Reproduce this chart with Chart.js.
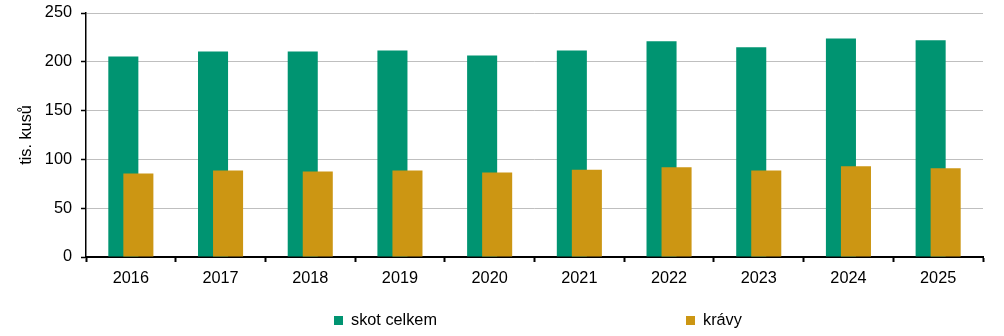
<!DOCTYPE html>
<html>
<head>
<meta charset="utf-8">
<script src="https://cdn.jsdelivr.net/npm/chart.js@4.4.1/dist/chart.umd.min.js"></script>
<style>
  body { margin: 0; background: #fff; }
  #wrap { position: relative; width: 1004px; height: 336px; }
  #legend { position: absolute; left: 0; top: 308px; width: 1004px; height: 24px;
            font-family: "Liberation Sans", Arial, sans-serif; font-size: 16.3px; color: #000; }
  .item { position: absolute; top: 0; white-space: nowrap; line-height: 22px; }
  .box { display: inline-block; width: 9px; height: 9px; margin-right: 8px; vertical-align: 0px; }
</style>
</head>
<body>
<div id="wrap">
  <canvas id="chart" width="1004" height="336"></canvas>
  <div id="legend"></div>
</div>
<script>
// data (tis. kusů)
var years = ['2016', '2017', '2018', '2019', '2020', '2021', '2022', '2023', '2024', '2025'];
var skotCelkem = [205.5, 210.5, 210.5, 211.5, 206.5, 211.5, 221, 215, 224, 222];
var kravy = [85.5, 88.5, 87.5, 88.5, 86.5, 89.5, 92, 88.5, 93, 91];
var yTicks = [0, 50, 100, 150, 200, 250];

var seriesNames = ['skot celkem', 'krávy'];
var seriesColors = ['#009471', '#cc9613'];

var font = 'Liberation Sans, Arial, sans-serif';
var fontSize = 16.3;

// green bars first, gold ones over them (overlapping pairs)
var drawInOrder = {
  id: 'drawInOrder',
  beforeDatasetsDraw: function (chart) {
    chart.data.datasets.forEach(function (ds, i) {
      chart.getDatasetMeta(i).controller.draw();
    });
    return false;
  }
};

var chart = new Chart(document.getElementById('chart'), {
  type: 'bar',
  data: {
    labels: years,
    datasets: [
      {
        label: seriesNames[0],
        data: skotCelkem,
        backgroundColor: seriesColors[0],
        categoryPercentage: 0.335,
        barPercentage: 2
      },
      {
        label: seriesNames[1],
        data: kravy,
        backgroundColor: seriesColors[1],
        categoryPercentage: 0.335,
        barPercentage: 2
      }
    ]
  },
  options: {
    responsive: false,
    animation: false,
    layout: { padding: { top: 13, right: 21, left: 0, bottom: 0 } },
    plugins: {
      legend: { display: false },
      tooltip: { enabled: false }
    },
    scales: {
      x: {
        grid: {
          offset: true,
          drawOnChartArea: false,
          drawTicks: true,
          tickLength: 5,
          tickColor: '#000',
          tickWidth: 2
        },
        border: { color: '#000', width: 2 },
        ticks: {
          color: '#000',
          font: { family: font, size: fontSize },
          padding: 7,
          maxRotation: 0
        },
        afterFit: function (s) { s.height = 79; }
      },
      y: {
        min: yTicks[0],
        max: yTicks[yTicks.length - 1],
        ticks: {
          stepSize: yTicks[1] - yTicks[0],
          color: '#000',
          font: { family: font, size: fontSize },
          padding: 9
        },
        grid: {
          color: '#bfbfbf',
          lineWidth: 1,
          tickLength: 5,
          tickColor: '#000',
          tickWidth: 1.5
        },
        border: { color: '#000', width: 1.5 },
        title: {
          display: true,
          text: 'tis. kusů',
          color: '#000',
          font: { family: font, size: fontSize },
          padding: { top: 17, bottom: 0 }
        },
        afterFit: function (s) {
          s.width = 86;
          s.paddingTop = 0;
          s.paddingBottom = 0;
        }
      }
    }
  },
  plugins: [drawInOrder]
});

// legend as html text, two items spread like the original
var legendX = [334, 686];
var legend = document.getElementById('legend');
chart.data.datasets.forEach(function (ds, i) {
  var item = document.createElement('div');
  item.className = 'item';
  item.style.left = legendX[i] + 'px';
  item.innerHTML = '<span class="box" style="background:' + ds.backgroundColor + '"></span>' + ds.label;
  legend.appendChild(item);
});
</script>
</body>
</html>
